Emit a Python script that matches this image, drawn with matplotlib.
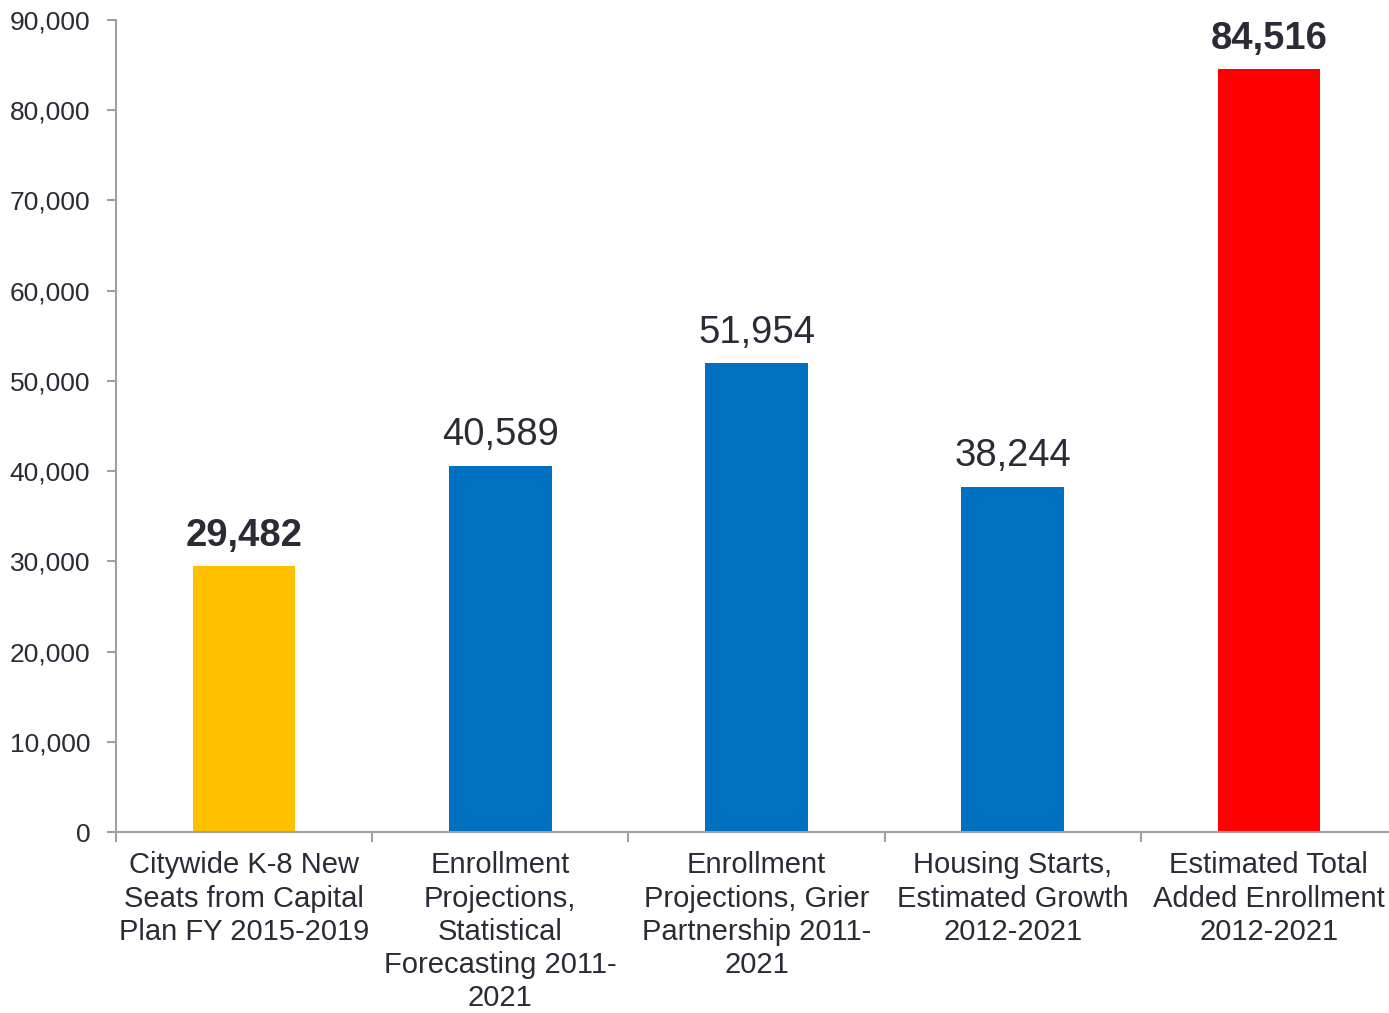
import matplotlib.pyplot as plt
from matplotlib.ticker import FuncFormatter, MultipleLocator

plt.rcParams['font.family'] = ['Liberation Sans', 'DejaVu Sans']

# data
categories = [
    "Citywide K-8 New\nSeats from Capital\nPlan FY 2015-2019",
    "Enrollment\nProjections,\nStatistical\nForecasting 2011-\n2021",
    "Enrollment\nProjections, Grier\nPartnership 2011-\n2021",
    "Housing Starts,\nEstimated Growth\n2012-2021",
    "Estimated Total\nAdded Enrollment\n2012-2021",
]
values = [29482, 40589, 51954, 38244, 84516]
bar_colors = ["#FFC000", "#0070C0", "#0070C0", "#0070C0", "#FF0000"]
bold_label = [True, False, False, False, True]

text_col = "#2b2b38"
axis_col = "#a0a0a0"

fig = plt.figure(figsize=(13.89, 10.13), dpi=100)
ax = fig.add_axes([116 / 1389, 1 - 832 / 1013, 1281 / 1389, 812 / 1013])

x = range(len(values))
bars = ax.bar(x, values, width=0.4, color=bar_colors, zorder=2)

for b, v, bold in zip(bars, values, bold_label):
    ax.annotate(f"{v:,}", (b.get_x() + b.get_width() / 2, v),
                xytext=(0, 9), textcoords="offset points",
                ha="center", va="bottom", fontsize=27.5, color=text_col,
                fontweight="bold" if bold else "normal")

ax.set_xlim(-0.5, 4.5)
ax.set_ylim(0, 90000)
ax.yaxis.set_major_locator(MultipleLocator(10000))
ax.yaxis.set_major_formatter(FuncFormatter(lambda v, p: f"{int(v):,}"))

# category labels centred, tick marks on the boundaries
ax.set_xticks(list(x))
ax.set_xticklabels(categories, fontsize=21, color=text_col, linespacing=1.23, va="top")
ax.set_xticks([i - 0.5 for i in range(len(values) + 1)], minor=True)
ax.tick_params(axis="x", which="major", length=0, pad=14)
ax.tick_params(axis="x", which="minor", length=7, width=1.5, color=axis_col, direction="out")
ax.tick_params(axis="y", length=6.5, width=1.5, color=axis_col, pad=12,
               labelsize=19, labelcolor=text_col)

for s in ["top", "right"]:
    ax.spines[s].set_visible(False)
for s in ["left", "bottom"]:
    ax.spines[s].set_color(axis_col)
    ax.spines[s].set_linewidth(1.5)

fig.savefig("out.png", dpi=100)
